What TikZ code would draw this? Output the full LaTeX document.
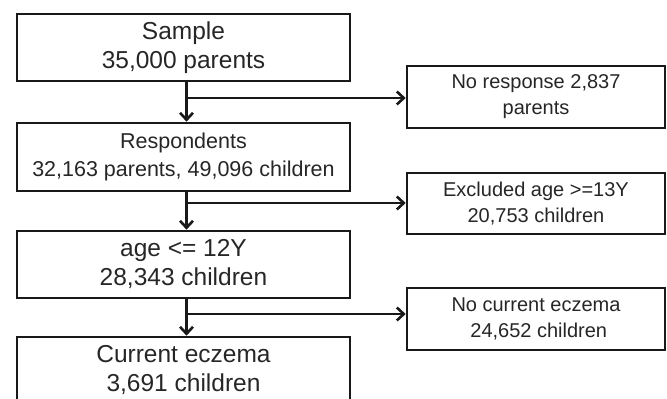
\documentclass[tikz,border=0pt]{standalone}
\usepackage{fontspec}
\setmainfont{Liberation Sans}
\usetikzlibrary{arrows.meta,positioning}
\definecolor{linegray}{gray}{0.1}
\definecolor{textgray}{gray}{0.15}
\tikzset{
  mainbox/.style={draw=linegray, line width=2.6pt, minimum width=333pt, minimum height=67pt,
    inner sep=0pt, align=center, text=textgray, font=\fontsize{24.5}{29}\selectfont},
  sidebox/.style={draw=linegray, line width=2.6pt, minimum width=258pt, minimum height=62pt,
    inner sep=0pt, align=center, text=textgray, font=\fontsize{20}{26}\selectfont},
  flow/.style={draw=linegray, line width=2.6pt, -{Straight Barb[length=7pt,width=13pt]}}
}
\begin{document}
\begin{tikzpicture}[x=1pt,y=-1pt]
\useasboundingbox (0,0) rectangle (667,399);
% main column
\node[mainbox] (sample) at (183.5,47.5) {Sample\\35,000 parents};
\node[mainbox, minimum height=68pt, font=\fontsize{21.5}{28}\selectfont] (resp) at (183.5,157) {Respondents\\32,163 parents, 49,096 children};
\node[mainbox] (age) at (183.5,264.5) {age <= 12Y\\28,343 children};
\node[mainbox] (eczema) at (183.5,370.5) {Current eczema\\3,691 children};
% excluded
\node[sidebox] (noresp) at (536,97) {No response 2,837\\parents};
\node[sidebox, minimum height=61pt] (excl) at (536,203.5) {Excluded age >=13Y\\20,753 children};
\node[sidebox] (noecz) at (536,319) {No current eczema\\\ 24,652 children};
\coordinate (b1) at (186.5,98);
\coordinate (b2) at (186.5,203);
\coordinate (b3) at (186.5,314);
\draw[flow] ([xshift=3pt]sample.south) -- ([xshift=3pt]resp.north);
\draw[flow] ([xshift=3pt]resp.south) -- ([xshift=3pt]age.north);
\draw[flow] ([xshift=3pt]age.south) -- ([xshift=3pt]eczema.north);
\draw[flow] (b1) -- (b1 -| noresp.west);
\draw[flow] (b2) -- (b2 -| excl.west);
\draw[flow] (b3) -- (b3 -| noecz.west);
\end{tikzpicture}
\end{document}
